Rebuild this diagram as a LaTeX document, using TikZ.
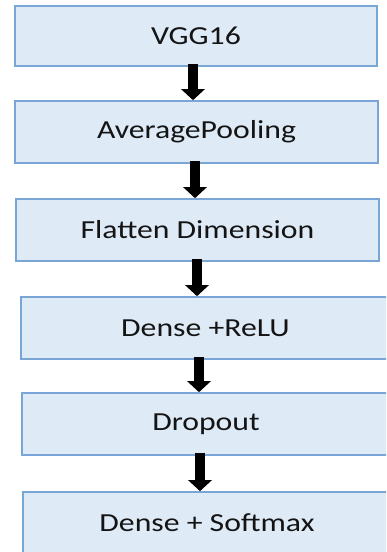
\documentclass[tikz,border=0pt]{standalone}
\usepackage{fontspec}
\setmainfont{Carlito}[FakeStretch=1.22]
\usetikzlibrary{arrows.meta}
\definecolor{boxfill}{RGB}{222,234,246}
\definecolor{boxline}{RGB}{122,166,214}
\definecolor{txt}{RGB}{20,20,20}
\tikzset{
  layer/.style={draw=boxline, fill=boxfill, line width=1.6pt, inner sep=0pt,
    text=txt, font=\fontsize{26pt}{30pt}\selectfont},
  flow/.style={line width=10pt, draw=black,
    -{Triangle[width=23pt,length=11pt]}}
}
\begin{document}
\begin{tikzpicture}[x=1pt, y=-1pt]
  \useasboundingbox (0,0) rectangle (386,552);
  \clip (0,0) rectangle (386,552);
  \fill[white] (0,0) rectangle (386,552);
  % network stages, top to bottom
  \node[layer, minimum width=362pt, minimum height=60pt] (b1) at (196,36) {VGG16};
  \node[layer, minimum width=363pt, minimum height=62pt] (b2) at (196.5,132) {AveragePooling};
  \node[layer, minimum width=363pt, minimum height=62pt] (b3) at (197.5,230) {Flatten Dimension};
  \node[layer, minimum width=369pt, minimum height=62pt] (b4) at (205.5,328) {Dense +ReLU};
  \node[layer, minimum width=368pt, minimum height=62pt] (b5) at (206,424) {Dropout};
  \node[layer, minimum width=368pt, minimum height=62pt] (b6) at (207,523) {Dense + Softmax};
  % arrows between stages
  \coordinate (x1) at (193,0);
  \coordinate (x2) at (195,0);
  \coordinate (x3) at (197,0);
  \coordinate (x4) at (199,0);
  \coordinate (x5) at (200,0);
  \draw[flow] ([yshift=3pt]b1.south -| x1) -- (b2.north -| x1);
  \draw[flow] ([yshift=3pt]b2.south -| x2) -- (b3.north -| x2);
  \draw[flow] ([yshift=3pt]b3.south -| x3) -- (b4.north -| x3);
  \draw[flow] ([yshift=3pt]b4.south -| x4) -- (b5.north -| x4);
  \draw[flow] ([yshift=3pt]b5.south -| x5) -- (b6.north -| x5);
\end{tikzpicture}
\end{document}
